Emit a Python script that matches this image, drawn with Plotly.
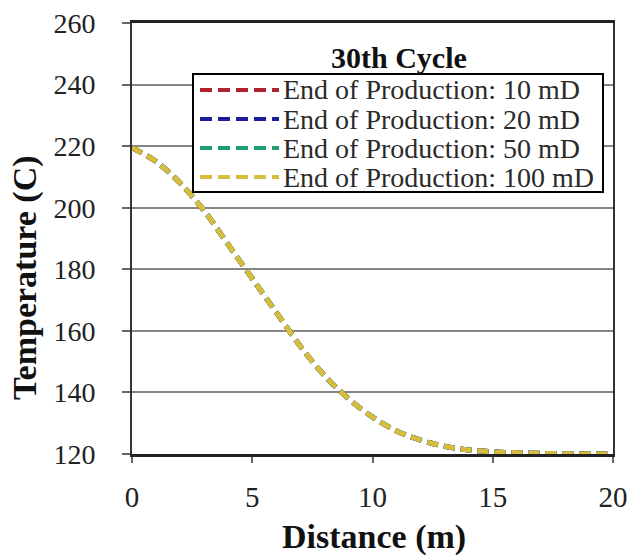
import plotly.graph_objects as go

# ---- data ----
distance_m = [0, 1, 2, 3, 4, 5, 6, 7, 8, 9, 10, 11, 12, 13, 14, 15, 16, 17, 18, 19, 20]
temp_10mD = [219.5, 215, 208, 199, 188, 177, 166, 155, 145.5, 138, 132, 127.5, 124.5, 122.5, 121.3, 120.7, 120.4, 120.2, 120.1, 120, 120]
temp_20mD = [219.5, 215, 208, 199, 188, 177, 166, 155, 145.5, 138, 132, 127.5, 124.5, 122.5, 121.3, 120.7, 120.4, 120.2, 120.1, 120, 120]
temp_50mD = [219.5, 215, 208, 199, 188, 177, 166, 155, 145.5, 138, 132, 127.5, 124.5, 122.5, 121.3, 120.7, 120.4, 120.2, 120.1, 120, 120]
temp_100mD = [219.5, 215, 208, 199, 188, 177, 166, 155, 145.5, 138, 132, 127.5, 124.5, 122.5, 121.3, 120.7, 120.4, 120.2, 120.1, 120, 120]

series_names = ["End of Production: 10 mD", "End of Production: 20 mD",
                "End of Production: 50 mD", "End of Production: 100 mD"]
series_values = [temp_10mD, temp_20mD, temp_50mD, temp_100mD]
series_colors = ["#B0242E", "#1C1C9C", "#1E9E72", "#D8BC3C"]

x_ticks = [0, 5, 10, 15, 20]
y_ticks = [120, 140, 160, 180, 200, 220, 240, 260]
legend_title = "30th Cycle"
x_title = "Distance (m)"
y_title = "Temperature (C)"

DASH = "11px,6px"
SERIF = "Liberation Serif, Times New Roman, serif"

fig = go.Figure()
for name, vals, col in zip(series_names, series_values, series_colors):
    fig.add_trace(go.Scatter(x=distance_m, y=vals, mode="lines", name=name,
                             line=dict(color=col, width=5, dash=DASH, shape="spline"),
                             showlegend=False))

# manual legend (Excel-style) in paper coordinates
L, R, T, B = 132, 613, 23, 454
W, H = R - L, B - T
px = lambda v: (v - L) / W
py = lambda v: (B - v) / H

fig.add_shape(type="rect", xref="paper", yref="paper",
              x0=px(193), x1=px(603), y0=py(192), y1=py(74),
              line=dict(color="black", width=2), fillcolor="white", layer="above")
row_y = [90, 119, 148, 177]
for name, col, ry in zip(series_names, series_colors, row_y):
    fig.add_shape(type="line", xref="paper", yref="paper",
                  x0=px(200), x1=px(279), y0=py(ry), y1=py(ry),
                  line=dict(color=col, width=4, dash="12px,6px"), layer="above")
    fig.add_annotation(xref="paper", yref="paper", x=px(281), y=py(ry),
                       text=name, showarrow=False, xanchor="left", yanchor="middle",
                       font=dict(family=SERIF, size=28, color="#2a2a2a"))
fig.add_annotation(xref="paper", yref="paper", x=px(399), y=py(58),
                   text="<b>" + legend_title + "</b>", showarrow=False,
                   xanchor="center", yanchor="middle",
                   font=dict(family=SERIF, size=30, color="#111"))

# axis titles
fig.add_annotation(xref="paper", yref="paper", x=px(374), y=py(537),
                   text="<b>" + x_title + "</b>", showarrow=False,
                   xanchor="center", yanchor="middle",
                   font=dict(family=SERIF, size=34, color="#111"))
fig.add_annotation(xref="paper", yref="paper", x=px(25), y=py(278),
                   text="<b>" + y_title + "</b>", showarrow=False, textangle=-90,
                   xanchor="center", yanchor="middle",
                   font=dict(family=SERIF, size=34, color="#111"))

fig.update_layout(
    width=631, height=559,
    margin=dict(l=L, r=631 - R, t=T, b=559 - B, pad=0),
    paper_bgcolor="white", plot_bgcolor="white",
    font=dict(family=SERIF, color="#222"),
    xaxis=dict(range=[0, 20], tickvals=x_ticks, showgrid=False, zeroline=False,
               automargin=False,
               showline=True, linecolor="#222", linewidth=2.5, mirror=True,
               ticks="outside", ticklen=6, tickcolor="#666", tickwidth=1.5,
               ticklabelstandoff=9,
               tickfont=dict(family=SERIF, size=29, color="#222")),
    yaxis=dict(range=[120, 260], tickvals=y_ticks, showgrid=True, gridcolor="#858585",
               gridwidth=1.8, zeroline=False, automargin=False,
               showline=True, linecolor="#333", linewidth=2, mirror=True,
               ticks="outside", ticklen=8, tickcolor="#666", tickwidth=1.5,
               ticklabelstandoff=21,
               tickfont=dict(family=SERIF, size=28, color="#222")),
)

fig.write_html("out.html", config={"displayModeBar": False},
               post_script="document.body.style.margin='0px';document.body.style.overflow='hidden';")
